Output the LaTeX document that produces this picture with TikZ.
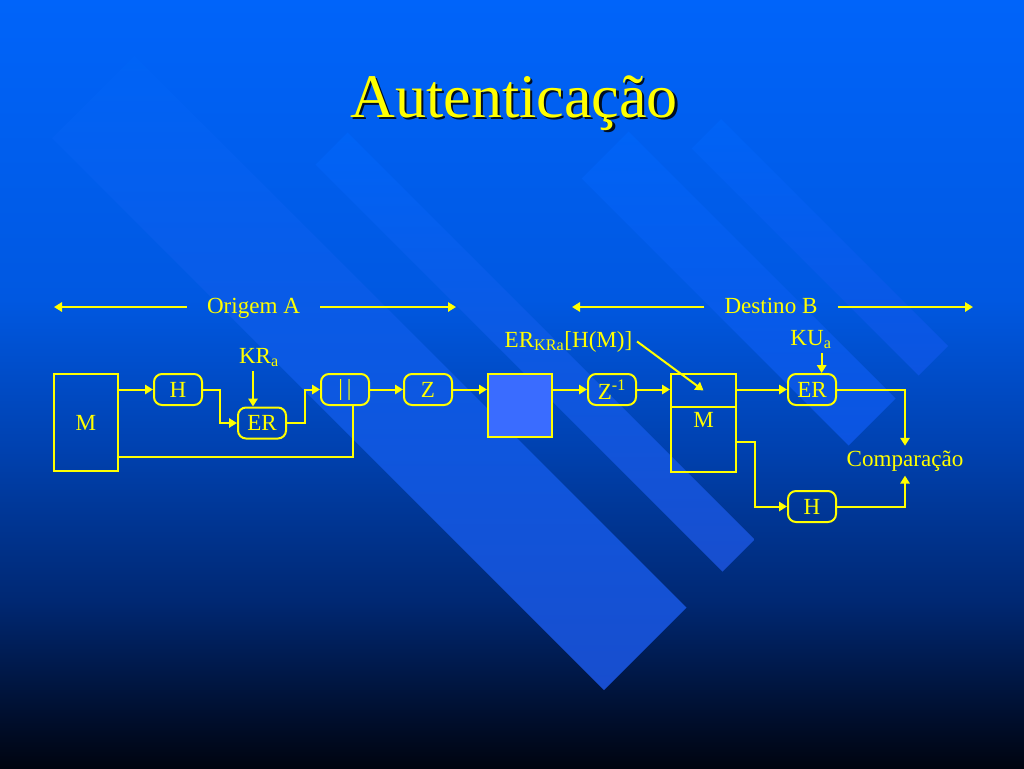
\documentclass[tikz,border=0pt]{standalone}
\usepackage{fontspec}
\setmainfont{Liberation Serif}
\usetikzlibrary{positioning}
\usetikzlibrary{arrows.meta}
\definecolor{amarelo}{RGB}{255,255,0}
\definecolor{faixatopo}{RGB}{0,99,246}
\definecolor{faixabase}{RGB}{24,78,206}
\definecolor{faixaclara}{RGB}{12,84,224}
\definecolor{canalcor}{RGB}{58,108,255}
\definecolor{c0}{RGB}{0,4,16}
\definecolor{c1}{RGB}{0,18,55}
\definecolor{c2}{RGB}{0,40,115}
\definecolor{c3}{RGB}{0,65,175}
\definecolor{c4}{RGB}{0,88,225}
\definecolor{c5}{RGB}{0,100,250}
\pgfdeclareverticalshading{ceu}{100bp}{color(0bp)=(c0); color(25bp)=(c0); color(29.4bp)=(c1); color(35.9bp)=(c2); color(45.7bp)=(c3); color(55.5bp)=(c4); color(75bp)=(c5); color(100bp)=(c5)}
\tikzstyle{every node} = [text=amarelo, font=\fontsize{17.3}{20}\selectfont]
\tikzstyle{faixa} = [top color=faixatopo, bottom color=faixabase]
\tikzstyle{faixafina} = [top color=faixatopo, bottom color=faixaclara]
\tikzstyle{caixa} = [draw=amarelo, line width=1.5pt, rounded corners=6pt, minimum width=36pt, minimum height=23.25pt, inner sep=0pt]
\tikzstyle{bloco} = [draw=amarelo, line width=1.5pt, inner sep=0pt, minimum width=48pt]
\tikzstyle{linha} = [draw=amarelo, line width=1.5pt]
\tikzstyle{seta} = [linha, -{Triangle[length=6pt,width=7pt]}]

\begin{document}
\begin{tikzpicture}[x=0.75pt, y=-0.75pt]
                    \useasboundingbox (0,0) rectangle (1024,768);
                    \shade[shading=ceu] (0,0) rectangle (1024,768);
                    \shade[faixa] (52,138) -- (134.5,55.5) -- (686.5,607.5) -- (604,690) -- cycle;
                    \shade[faixa] (315.5,164.5) -- (347.5,132.5) -- (754.5,539.5) -- (722.5,571.5) -- cycle;
                    \shade[faixafina] (581.5,178.5) -- (628.5,131.5) -- (895.5,398.5) -- (848.5,445.5) -- cycle;
                    \shade[faixafina] (691.5,148.5) -- (721,119) -- (948,346) -- (918.5,375.5) -- cycle;

                    \node[text=black, opacity=0.85, font=\fontsize{46.5}{50}\selectfont, anchor=base] (sombra) at (516.5,119.5) {Autenticação};
                    \node[font=\fontsize{46.5}{50}\selectfont, anchor=base] (titulo) at (514,117) {Autenticação};

                    \node[inner xsep=15pt, anchor=base] (origem) at (253.5,313) {Origem A};
                    \node[inner xsep=15pt, anchor=base] (destino) at (771,313) {Destino B};
                    \coordinate (origemesq) at (54,307);
                    \coordinate (origemdir) at (456,307);
                    \coordinate (destinoesq) at (572,307);
                    \coordinate (destinodir) at (973,307);
                    \draw[seta] (origem.west |- origemesq) -- (origemesq);
                    \draw[seta] (origem.east |- origemdir) -- (origemdir);
                    \draw[seta] (destino.west |- destinoesq) -- (destinoesq);
                    \draw[seta] (destino.east |- destinodir) -- (destinodir);

                    \node[bloco, minimum height=72.75pt] (mensagem) at (86,422.5) {M};
                    \node[caixa] (hash) at (178,389.5) {H};
                    \node[caixa] (er) at (262,423) {ER};
                    \node[anchor=base] (kra) at (259,363) {KR\textsubscript{a}};
                    \node[caixa] (concat) at (345,389.5) {|\,|};
                    \node[caixa] (zip) at (428,389.5) {Z};
                    \node[bloco, fill=canalcor, minimum height=47.25pt] (canal) at (520,405.5) {};
                    \node[caixa] (unzip) at (612,389.5) {Z\textsuperscript{-1}};
                    \node[bloco, minimum width=48.75pt, minimum height=24.75pt] (msgtopo) at (703.5,390.5) {};
                    \node[bloco, minimum width=48.75pt, minimum height=48.75pt] (msgbase) at (703.5,439.5) {};
                    \node[below=0pt of msgtopo.south] (msgrot) {M};
                    \node[anchor=base] (assin) at (568.5,347) {ER\textsubscript{KRa}[H(M)]};
                    \node[caixa] (erb) at (812,389.5) {ER};
                    \node[anchor=base] (kua) at (811,345) {KU\textsubscript{a}};
                    \node[caixa] (hashb) at (812,506.5) {H};
                    \node[anchor=base] (comparacao) at (905,466) {Comparação};

                    \draw[seta] (mensagem.east |- hash.west) -- (hash.west);
                    \draw[seta] (hash.east) -- ++(17,0) |- (er.west);
                    \draw[seta] ([xshift=-4.5pt]kra.south) -- ([xshift=-4.5pt]kra.south |- er.north);
                    \draw[seta] (er.east) -- ++(18,0) |- (concat.west);
                    \draw[linha] ([yshift=-26pt]mensagem.east) -| ([xshift=6pt]concat.south);
                    \draw[seta] (concat) -- (zip);
                    \draw[seta] (zip.east) -- (zip.east -| canal.west);
                    \draw[seta] (canal.east |- unzip.west) -- (unzip.west);
                    \draw[seta] (unzip.east) -- (unzip.east -| msgtopo.west);
                    \draw[seta] (assin.east) -- (msgtopo.center);
                    \draw[seta] (msgtopo.east |- erb.west) -- (erb.west);
                    \draw[seta] ([xshift=8pt]kua.south) -- ([xshift=8pt]kua.south |- erb.north);
                    \draw[seta] (erb.east) -| (comparacao.north);
                    \draw[seta] ([yshift=-2pt]msgbase.east) -- ++(18,0) |- (hashb.west);
                    \draw[seta] (hashb.east) -| (comparacao.south);
                \end{tikzpicture}
\end{document}
